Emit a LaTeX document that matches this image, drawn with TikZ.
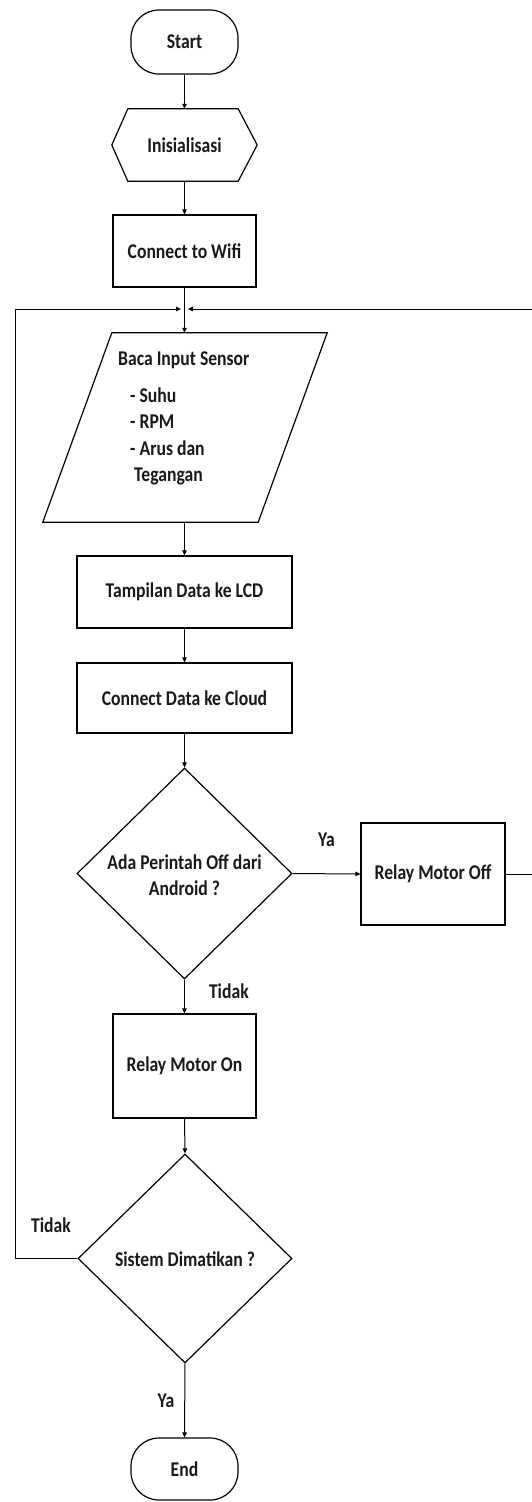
\documentclass[tikz,border=0pt]{standalone}
\usepackage{fontspec}
\setmainfont{Carlito}[FakeStretch=0.84]
\usetikzlibrary{shapes.geometric,arrows.meta,calc}
\begin{document}
\begin{tikzpicture}[x=1pt,y=-1pt,
  every node/.style={font=\fontsize{21}{26}\selectfont\bfseries, text=black!90},
  shp/.style={draw, line width=1.2pt, inner sep=0pt},
  box/.style={shp, rectangle, minimum width=143pt},
  term/.style={shp, rectangle, rounded corners=28pt, minimum width=107pt, minimum height=64pt},
  dec/.style={shp, diamond, minimum width=215pt, minimum height=211pt},
  lbl/.style={inner sep=0pt},
  arr/.style={line width=1pt, -{Triangle[length=5pt,width=4.5pt]}},
  ln/.style={line width=1.2pt}]
\useasboundingbox (0,0) rectangle (531,1502);
% nodes
\node[term] (start) at (184.5,42) {Start};
\node[draw=none, minimum width=145pt, minimum height=72pt, inner sep=0pt] (init) at (184.5,145) {Inisialisasi};
\draw[ln] ($(init.north west)+(16,0)$) -- ($(init.north east)+(-19,0)$) -- (init.east)
  -- ($(init.south east)+(-19,0)$) -- ($(init.south west)+(16,0)$) -- (init.west) -- cycle;
\node[box, minimum height=72pt] (wifi) at (184.5,251) {Connect to Wifi};
\coordinate (J) at (184.5,309);
\coordinate (JL) at (181,309);
\coordinate (JR) at (188,309);
\node[draw=none, minimum width=146pt, minimum height=189pt, inner sep=0pt] (input) at (185,427.5) {};
\draw[ln] (input.north west) -- ($(input.north east)+(69,0)$) -- (input.south east)
  -- ($(input.south west)+(-69,0)$) -- cycle;
\node[lbl, anchor=base west] (t1) at (118,365) {Baca Input Sensor};
\node[lbl, anchor=base west] (t2) at (130,402) {- Suhu};
\node[lbl, anchor=base west] (t3) at (130,428) {- RPM};
\node[lbl, anchor=base west] (t4) at (130,455) {- Arus dan};
\node[lbl, anchor=base west] (t5) at (134,481) {Tegangan};
\node[box, minimum width=215pt, minimum height=72pt] (lcd) at (184.5,592) {Tampilan Data ke LCD};
\node[box, minimum width=215pt, minimum height=70pt] (cloud) at (184.5,698) {Connect Data ke Cloud};
\node[dec] (d1) at (184.5,873.5) {};
\node[align=center, inner sep=0pt] (d1t) at (184.5,875) {Ada Perintah Off dari\\Android ?};
\node[box, minimum width=144pt, minimum height=102pt] (off) at (433,874) {Relay Motor Off};
\node[box, minimum height=104pt] (on) at (184.5,1066) {Relay Motor On};
\node[dec, minimum width=214pt, minimum height=209pt] (d2) at (185,1258.5) {};
\node[lbl] (d2t) at (185,1259) {Sistem Dimatikan ?};
\node[term, minimum height=62pt] (end) at (184.5,1469) {End};
\coordinate (xl) at (15,0);
\coordinate (xr) at (545,0);
% connectors
\draw[arr] (start.south) -- (init.south |- init.north);
\draw[arr] (init.south) -- (wifi.north);
\draw[arr] (wifi.south) -- (wifi.south |- input.north);
\draw[arr] (input.south -| lcd.north) -- (lcd.north);
\draw[arr] (lcd.south) -- (cloud.north);
\draw[arr] (cloud.south) -- (d1.north);
\draw[arr] (d1.east) -- node[lbl, above=27pt] (ya1) {Ya} (off.west);
\draw[arr] (d1.south) -- node[lbl, pos=0.35, right=24pt] (td1) {Tidak} (on.north);
\draw[arr] (on.south) -- (d2.north);
\draw[arr] (d2.south) -- node[lbl, pos=0.5, left=10pt] (ya2) {Ya} (end.north);
\draw[arr] (d2.west) -- (xl |- d2.west) -- (xl |- J) -- (JL);
\draw[arr] (off.east) -- (xr |- off.east) -- (xr |- J) -- (JR);
\node[lbl] (td2) at (51,1225) {Tidak};
\end{tikzpicture}
\end{document}
